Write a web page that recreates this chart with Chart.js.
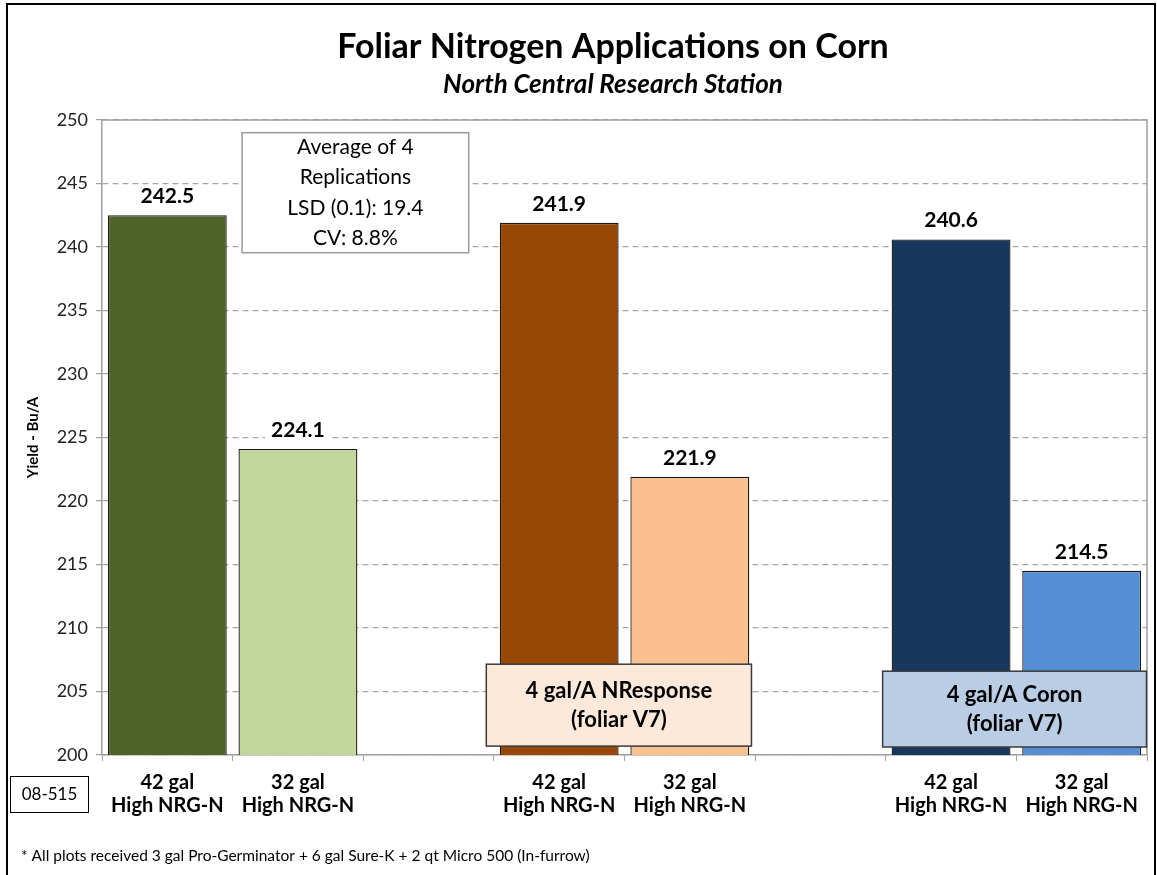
<!DOCTYPE html>
<html>
<head>
<meta charset="utf-8">
<script src="https://cdn.jsdelivr.net/npm/chart.js@4.4.1/dist/chart.umd.min.js"></script>
<style>
  html, body { margin: 0; padding: 0; background: #ffffff; }
  #wrap { position: relative; width: 1157px; height: 875px; }
</style>
</head>
<body>
<div id="wrap"><canvas id="c" width="1157" height="875"></canvas></div>
<script>
// ---- data ----
const categories = [
  ['42 gal', 'High NRG-N'], ['32 gal', 'High NRG-N'], '',
  ['42 gal', 'High NRG-N'], ['32 gal', 'High NRG-N'], '',
  ['42 gal', 'High NRG-N'], ['32 gal', 'High NRG-N']
];
const yieldValues = [242.5, 224.1, null, 241.9, 221.9, null, 240.6, 214.5];
const barColors = ['#4F6228', '#C3D69B', '#FFFFFF', '#974706', '#FAC090', '#FFFFFF', '#17375E', '#558ED5'];
const yTicks = [200, 205, 210, 215, 220, 225, 230, 235, 240, 245, 250];
const titleText = 'Foliar Nitrogen Applications on Corn';
const subtitleText = 'North Central Research Station';
const yAxisTitle = 'Yield - Bu/A';
const statsLines = ['Average of 4', 'Replications', 'LSD (0.1): 19.4', 'CV: 8.8%'];
const nresponseLines = ['4 gal/A NResponse', '(foliar V7)'];
const coronLines = ['4 gal/A Coron', '(foliar V7)'];
const trialId = '08-515';
const footnote = '* All plots received 3 gal Pro-Germinator + 6 gal Sure-K + 2 qt Micro 500 (In-furrow)';

const FONT = 'Lato, "Open Sans", "DejaVu Sans", sans-serif';

// annotation boxes anchored in data units (x = category index centre, w = width in categories)
const boxes = [
  { lines: statsLines, x: 1.44, w: 1.735, yTop: 249.0, yBot: 239.55, fill: '#FFFFFF', stroke: '#9A9A9A', lw: 1.5, font: '21px ' + FONT, lineGap: 30.5 },
  { lines: nresponseLines, x: 3.457, w: 2.03, yTop: 207.15, yBot: 200.7, fill: '#FDE9D9', stroke: '#3A3A3A', lw: 1.5, font: 'bold 22px ' + FONT, lineGap: 29 },
  { lines: coronLines, x: 6.486, w: 2.02, yTop: 206.6, yBot: 200.63, fill: '#B9CDE5', stroke: '#3A3A3A', lw: 1.5, font: 'bold 22px ' + FONT, lineGap: 29 }
];

const decorPlugin = {
  id: 'decor',
  beforeDatasetsDraw(chart) {
    const { ctx, chartArea: a } = chart;
    ctx.save();
    ctx.strokeStyle = '#A0A0A0';
    ctx.lineWidth = 1.5;
    ctx.beginPath();
    ctx.moveTo(a.left, a.top);
    ctx.lineTo(a.right, a.top);
    ctx.lineTo(a.right, a.bottom);
    ctx.stroke();
    ctx.restore();
  },
  afterDatasetsDraw(chart) {
    const { ctx } = chart;
    const meta = chart.getDatasetMeta(0);
    ctx.save();
    ctx.font = 'bold 21px ' + FONT;
    ctx.textAlign = 'center';
    ctx.textBaseline = 'middle';
    meta.data.forEach((el, i) => {
      const v = yieldValues[i];
      if (v === null) return;
      const txt = v.toFixed(1);
      const w = ctx.measureText(txt).width;
      const cy = el.y - 19;
      ctx.fillStyle = '#FFFFFF';
      ctx.fillRect(el.x - w / 2 - 6, cy - 11, w + 12, 22);
      ctx.fillStyle = '#000000';
      ctx.fillText(txt, el.x, cy);
    });
    ctx.restore();
  },
  afterDraw(chart) {
    const { ctx, scales: { x, y }, chartArea: a } = chart;
    const slot = (x.getPixelForValue(1) - x.getPixelForValue(0));
    ctx.save();
    // annotation boxes
    boxes.forEach(b => {
      const cx = x.getPixelForValue(0) + b.x * slot;
      const w = b.w * slot;
      const top = y.getPixelForValue(b.yTop);
      const bot = y.getPixelForValue(b.yBot);
      ctx.fillStyle = b.fill;
      ctx.fillRect(cx - w / 2, top, w, bot - top);
      ctx.strokeStyle = b.stroke;
      ctx.lineWidth = b.lw;
      ctx.strokeRect(cx - w / 2, top, w, bot - top);
      ctx.fillStyle = '#000000';
      ctx.font = b.font;
      ctx.textAlign = 'center';
      ctx.textBaseline = 'middle';
      const n = b.lines.length;
      const mid = (top + bot) / 2;
      b.lines.forEach((t, i) => {
        ctx.fillText(t, cx, mid + (i - (n - 1) / 2) * b.lineGap);
      });
    });
    // titles
    ctx.fillStyle = '#000000';
    ctx.textAlign = 'center';
    ctx.textBaseline = 'middle';
    ctx.font = 'bold 34px ' + FONT;
    ctx.fillText(titleText, 613, 47);
    ctx.font = 'italic bold 26px ' + FONT;
    ctx.fillText(subtitleText, 613, 85);
    // y-axis title
    ctx.save();
    ctx.translate(33, (a.top + a.bottom) / 2);
    ctx.rotate(-Math.PI / 2);
    ctx.font = 'bold 15px ' + FONT;
    ctx.fillText(yAxisTitle, 0, 0);
    ctx.restore();
    // trial id box
    ctx.strokeStyle = '#000000';
    ctx.lineWidth = 1;
    ctx.strokeRect(10.5, 776.5, 78, 36);
    ctx.font = '17px ' + FONT;
    ctx.fillText(trialId, 49.5, 794.5);
    // footnote
    ctx.textAlign = 'left';
    ctx.font = '15.5px ' + FONT;
    ctx.fillText(footnote, 21, 856);
    // outer frame
    ctx.strokeStyle = '#000000';
    ctx.lineWidth = 2;
    ctx.beginPath();
    ctx.moveTo(7, 880);
    ctx.lineTo(7, 4);
    ctx.lineTo(1155, 4);
    ctx.lineTo(1155, 880);
    ctx.stroke();
    ctx.restore();
  }
};

new Chart(document.getElementById('c'), {
  type: 'bar',
  data: {
    labels: categories,
    datasets: [{
      data: yieldValues,
      backgroundColor: barColors,
      borderColor: '#1A1A1A',
      borderWidth: 1.3,
      borderSkipped: 'bottom',
      barPercentage: 0.91,
      categoryPercentage: 1.0
    }]
  },
  options: {
    responsive: false,
    animation: false,
    devicePixelRatio: 1,
    layout: { padding: { left: 8, top: 120, right: 10, bottom: 0 } },
    plugins: { legend: { display: false }, tooltip: { enabled: false }, title: { display: false } },
    scales: {
      x: {
        offset: true,
        grid: { display: true, drawOnChartArea: false, drawTicks: true, tickLength: 6, color: '#A0A0A0', offset: true },
        border: { display: true, color: '#A0A0A0', width: 1.5 },
        ticks: { color: '#000000', font: { family: FONT, size: 20, weight: 'bold', lineHeight: 1.15 }, padding: 10, maxRotation: 0, autoSkip: false },
        afterFit(s) { s.height = 120; }
      },
      y: {
        min: 200, max: 250,
        afterBuildTicks(s) { s.ticks = yTicks.map(v => ({ value: v })); },
        grid: { color: '#A6A6A6', lineWidth: 1.2, tickLength: 6, tickColor: '#A0A0A0', tickBorderDash: [] },
        border: { display: true, color: '#A0A0A0', width: 1.5, dash: [6, 4] },
        ticks: { color: '#222222', font: { family: FONT, size: 18 }, padding: 8 },
        afterFit(s) { s.width = 94; }
      }
    }
  },
  plugins: [decorPlugin]
});
</script>
</body>
</html>
